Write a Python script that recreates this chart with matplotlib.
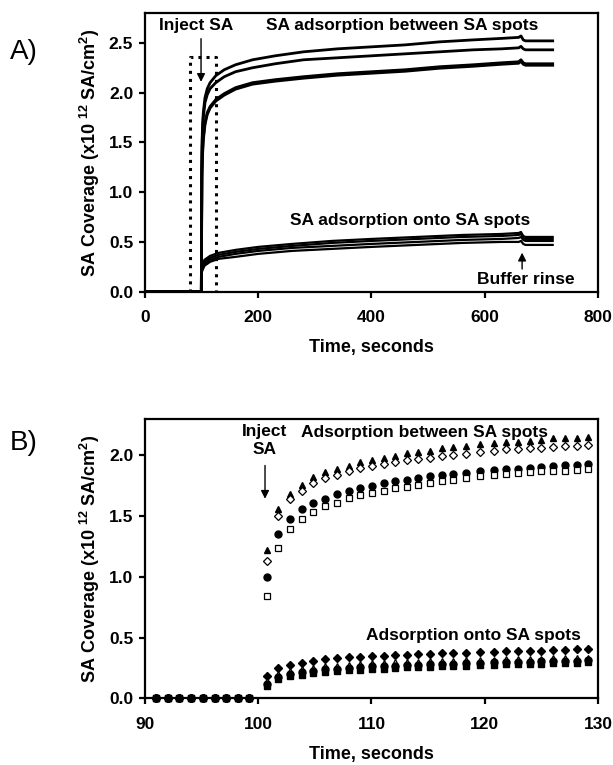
import matplotlib
matplotlib.use('Agg')
import matplotlib.pyplot as plt

plt.rcParams['font.family'] = ['Liberation Sans', 'DejaVu Sans']
plt.rcParams['mathtext.default'] = 'regular'

# ---- panel A: full time course (knots)
tA = [0, 99.5, 100.5, 101.5, 103, 106, 110, 115, 125, 140, 160, 190, 230, 280,
      340, 400, 460, 520, 580, 630, 660, 664, 668, 672, 720]
between1 = [0, 0, 1.40, 1.65, 1.80, 1.95, 2.04, 2.10, 2.17, 2.23, 2.28, 2.33, 2.37, 2.41,
            2.44, 2.46, 2.48, 2.51, 2.53, 2.545, 2.555, 2.57, 2.53, 2.52, 2.52]
between2 = [0, 0, 1.35, 1.60, 1.75, 1.90, 1.98, 2.04, 2.10, 2.16, 2.21, 2.25, 2.29, 2.33,
            2.35, 2.37, 2.39, 2.41, 2.43, 2.44, 2.45, 2.465, 2.44, 2.43, 2.43]
between3 = [0, 0, 1.20, 1.40, 1.55, 1.70, 1.80, 1.86, 1.93, 1.99, 2.05, 2.10, 2.13, 2.16,
            2.19, 2.21, 2.23, 2.26, 2.28, 2.30, 2.31, 2.33, 2.30, 2.29, 2.29]
between4 = [0, 0, 1.15, 1.35, 1.52, 1.68, 1.78, 1.845, 1.915, 1.975, 2.035, 2.085, 2.115, 2.145,
            2.175, 2.195, 2.215, 2.245, 2.265, 2.285, 2.295, 2.315, 2.285, 2.275, 2.275]

tS = [0, 99.5, 100.5, 105, 115, 130, 160, 200, 260, 330, 400, 480, 560, 630,
      660, 664, 668, 672, 720]
spot1 = [0, 0, 0.26, 0.32, 0.36, 0.39, 0.42, 0.45, 0.48, 0.51, 0.53, 0.55, 0.57, 0.58,
         0.59, 0.60, 0.56, 0.55, 0.55]
spot2 = [0, 0, 0.24, 0.30, 0.34, 0.37, 0.40, 0.43, 0.46, 0.49, 0.51, 0.53, 0.55, 0.56,
         0.57, 0.58, 0.54, 0.53, 0.53]
spot3 = [0, 0, 0.22, 0.28, 0.32, 0.35, 0.38, 0.41, 0.44, 0.46, 0.48, 0.50, 0.52, 0.53,
         0.54, 0.55, 0.52, 0.51, 0.51]
spot4 = [0, 0, 0.20, 0.26, 0.30, 0.33, 0.35, 0.38, 0.41, 0.43, 0.45, 0.47, 0.49, 0.50,
         0.50, 0.51, 0.48, 0.47, 0.47]

# ---- panel B: zoom on injection (individual points)
tB_pre = [90.98, 92.01, 93.04, 94.08, 95.12, 96.15, 97.19, 98.23, 99.2]
pre_zero = [0, 0, 0, 0, 0, 0, 0, 0, 0]
tB = [100.74, 101.78, 102.81, 103.84, 104.88, 105.92, 106.95, 107.99, 109.02, 110.05,
      111.09, 112.07, 113.1, 114.13, 115.17, 116.2, 117.24, 118.34, 119.58, 120.86,
      121.89, 122.93, 123.97, 125.0, 126.04, 127.08, 128.11, 129.15]

btw_tri = [1.22, 1.56, 1.68, 1.76, 1.82, 1.86, 1.89, 1.91, 1.945, 1.96, 1.98, 1.995, 2.02, 2.03,
           2.04, 2.06, 2.07, 2.08, 2.09, 2.10, 2.11, 2.11, 2.12, 2.13, 2.14, 2.14, 2.145, 2.15]
btw_dia = [1.13, 1.50, 1.64, 1.71, 1.77, 1.81, 1.835, 1.87, 1.90, 1.91, 1.93, 1.945, 1.96, 1.97,
           1.98, 1.995, 2.00, 2.015, 2.03, 2.04, 2.05, 2.05, 2.06, 2.065, 2.07, 2.075, 2.08, 2.085]
btw_circ = [1.00, 1.35, 1.48, 1.555, 1.61, 1.645, 1.68, 1.71, 1.73, 1.75, 1.77, 1.79, 1.80, 1.81,
            1.83, 1.84, 1.845, 1.855, 1.87, 1.88, 1.89, 1.89, 1.90, 1.905, 1.91, 1.92, 1.925, 1.93]
btw_sq = [0.84, 1.24, 1.39, 1.48, 1.53, 1.58, 1.61, 1.65, 1.67, 1.69, 1.71, 1.73, 1.74, 1.76,
          1.775, 1.79, 1.80, 1.81, 1.83, 1.84, 1.85, 1.855, 1.86, 1.87, 1.875, 1.875, 1.88, 1.885]

on_dia = [0.18, 0.25, 0.275, 0.29, 0.31, 0.32, 0.33, 0.34, 0.34, 0.345, 0.345, 0.355, 0.36, 0.363,
          0.365, 0.37, 0.37, 0.377, 0.385, 0.385, 0.387, 0.39, 0.39, 0.393, 0.40, 0.40, 0.402, 0.405]
on_tri = [0.145, 0.20, 0.225, 0.24, 0.25, 0.262, 0.268, 0.273, 0.28, 0.287, 0.29, 0.295, 0.30, 0.302,
          0.305, 0.307, 0.31, 0.312, 0.316, 0.318, 0.32, 0.321, 0.323, 0.326, 0.328, 0.329, 0.331, 0.334]
on_circ = [0.12, 0.175, 0.20, 0.215, 0.226, 0.238, 0.244, 0.25, 0.256, 0.263, 0.265, 0.27, 0.275, 0.278,
           0.28, 0.283, 0.286, 0.289, 0.294, 0.297, 0.299, 0.30, 0.302, 0.305, 0.308, 0.309, 0.31, 0.314]
on_sq = [0.10, 0.157, 0.18, 0.195, 0.206, 0.22, 0.225, 0.23, 0.237, 0.245, 0.245, 0.25, 0.256, 0.26,
         0.261, 0.264, 0.267, 0.27, 0.275, 0.278, 0.28, 0.28, 0.283, 0.286, 0.289, 0.289, 0.29, 0.295]

ylab = 'SA Coverage (x10 $^{12}$ SA/cm$^{2}$)'
tick_fs = 12.5
lab_fs = 13
ann_fs = 12.5

fig = plt.figure(figsize=(6.13, 7.65), dpi=100)
axA = fig.add_axes([0.2365, 0.6187, 0.739, 0.3643])
axB = fig.add_axes([0.2365, 0.0872, 0.739, 0.3651])


def style(ax):
    for sp in ax.spines.values():
        sp.set_linewidth(1.6)
    ax.tick_params(axis='both', direction='out', length=4.5, width=1.6, labelsize=tick_fs)
    ax.tick_params(axis='x', pad=9)
    ax.tick_params(axis='y', pad=4)
    for lab in ax.get_xticklabels() + ax.get_yticklabels():
        lab.set_fontweight('bold')
    ax.set_xlabel('Time, seconds', fontsize=lab_fs, fontweight='bold', labelpad=10)
    ax.set_ylabel(ylab, fontsize=lab_fs, fontweight='bold', labelpad=5)


# ---------------- A
for y in [between1, between2, between3, between4]:
    axA.plot(tA, y, color='black', lw=2.0)
for y in [spot1, spot2, spot3, spot4]:
    axA.plot(tS, y, color='black', lw=1.6)
axA.plot([79.5, 79.5, 125.5, 125.5], [0, 2.36, 2.36, 0], color='black', ls=':', lw=2.2)
axA.set_xlim(0, 800)
axA.set_ylim(0, 2.8)
axA.set_xticks([0, 200, 400, 600, 800])
axA.set_yticks([0.0, 0.5, 1.0, 1.5, 2.0, 2.5])
axA.set_yticklabels(['0.0', '0.5', '1.0', '1.5', '2.0', '2.5'])
style(axA)

axA.annotate('', xy=(99, 2.08), xytext=(99, 2.57),
             arrowprops=dict(arrowstyle='-|>', color='black', lw=1, mutation_scale=12))
axA.text(91, 2.67, 'Inject SA', ha='center', va='center', fontsize=ann_fs, fontweight='bold')
axA.text(455, 2.67, 'SA adsorption between SA spots', ha='center', va='center',
         fontsize=ann_fs, fontweight='bold')
axA.text(469, 0.72, 'SA adsorption onto SA spots', ha='center', va='center',
         fontsize=ann_fs, fontweight='bold')
axA.annotate('', xy=(666, 0.42), xytext=(666, 0.2),
             arrowprops=dict(arrowstyle='-|>', color='black', lw=1, mutation_scale=12))
axA.text(672, 0.12, 'Buffer rinse', ha='center', va='center', fontsize=ann_fs, fontweight='bold')

# ---------------- B
ms = 5
axB.plot(tB_pre + tB, pre_zero + btw_tri, '^', color='black', ms=ms, ls='none')
axB.plot(tB_pre + tB, pre_zero + btw_dia, 'D', mfc='white', mec='black', mew=0.9, ms=4, ls='none')
axB.plot(tB_pre + tB, pre_zero + btw_circ, 'o', color='black', ms=ms, ls='none')
axB.plot(tB_pre + tB, pre_zero + btw_sq, 's', mfc='white', mec='black', mew=0.9, ms=ms, ls='none')
axB.plot(tB_pre + tB, pre_zero + on_dia, 'D', color='black', ms=3.8, ls='none')
axB.plot(tB_pre + tB, pre_zero + on_tri, '^', mfc='white', mec='black', mew=0.9, ms=ms, ls='none')
axB.plot(tB_pre + tB, pre_zero + on_circ, 'o', color='black', ms=ms, ls='none')
axB.plot(tB_pre + tB, pre_zero + on_sq, 's', color='black', ms=ms, ls='none')
for ln in axB.lines:
    ln.set_clip_on(False)
axB.set_xlim(90, 130)
axB.set_ylim(0, 2.3)
axB.set_xticks([90, 100, 110, 120, 130])
axB.set_yticks([0.0, 0.5, 1.0, 1.5, 2.0])
axB.set_yticklabels(['0.0', '0.5', '1.0', '1.5', '2.0'])
style(axB)

axB.annotate('', xy=(100.6, 1.62), xytext=(100.6, 1.94),
             arrowprops=dict(arrowstyle='-|>', color='black', lw=1, mutation_scale=12))
axB.text(100.6, 2.12, 'Inject\nSA', ha='center', va='center', fontsize=ann_fs,
         fontweight='bold', linespacing=1.25)
axB.text(114.7, 2.19, 'Adsorption between SA spots', ha='center', va='center',
         fontsize=ann_fs, fontweight='bold')
axB.text(119.0, 0.52, 'Adsorption onto SA spots', ha='center', va='center',
         fontsize=ann_fs, fontweight='bold')

fig.text(0.016, 0.932, 'A)', fontsize=20, va='center', ha='left')
fig.text(0.016, 0.421, 'B)', fontsize=20, va='center', ha='left')

fig.savefig('out.png', dpi=100)
